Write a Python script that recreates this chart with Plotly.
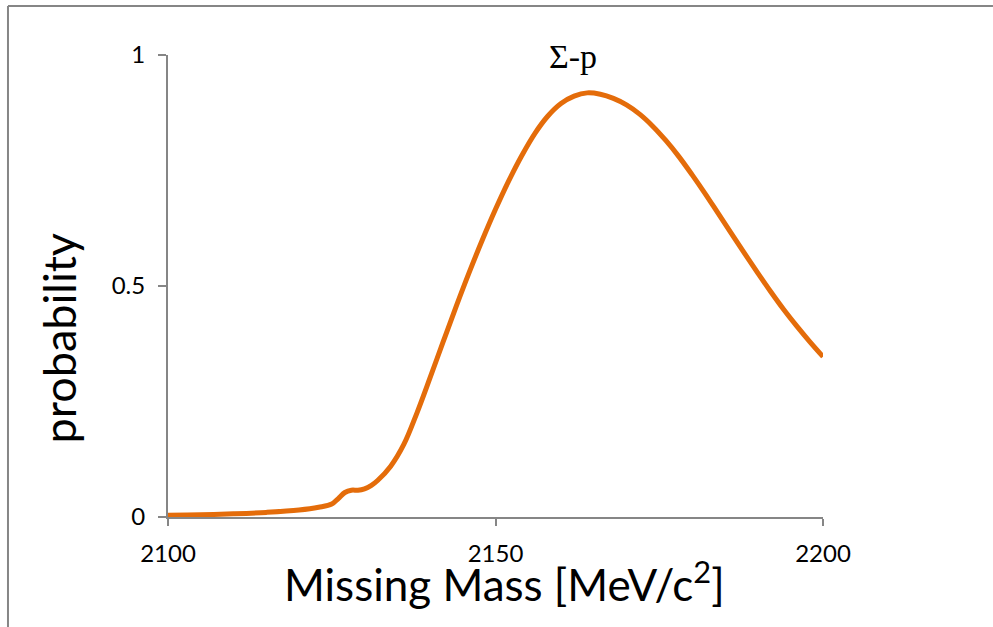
import plotly.graph_objects as go

# Missing-mass spectrum for the Σ-p channel
mass_mev = [2100, 2105, 2110, 2115, 2120, 2123, 2125, 2126, 2127, 2128, 2129, 2130,
            2131, 2132, 2134, 2136, 2138, 2140, 2142, 2144, 2146, 2148, 2150, 2152,
            2154, 2156, 2158, 2160, 2162, 2164, 2166, 2168, 2170, 2172, 2174, 2176,
            2178, 2180, 2182, 2184, 2186, 2188, 2190, 2192, 2194, 2196, 2198, 2200]
probability = [0.004, 0.005, 0.007, 0.010, 0.015, 0.021, 0.028, 0.040, 0.053, 0.058, 0.058, 0.061,
               0.068, 0.079, 0.110, 0.157, 0.225, 0.301, 0.379, 0.456, 0.530, 0.600, 0.666, 0.727,
               0.782, 0.830, 0.868, 0.895, 0.911, 0.918, 0.915, 0.906, 0.892, 0.872, 0.846, 0.815,
               0.780, 0.741, 0.700, 0.657, 0.614, 0.571, 0.529, 0.488, 0.449, 0.413, 0.379, 0.347]

x_ticks = [2100, 2150, 2200]
y_ticks = [0, 0.5, 1]
y_tick_text = ["0", "0.5", "1"]

AXIS_GRAY = "#868686"
ORANGE = "#E46C0A"
FONT = "Lato"

fig = go.Figure()
fig.add_trace(go.Scatter(
    x=mass_mev, y=probability, mode="lines",
    line=dict(color=ORANGE, width=5, shape="spline", smoothing=1.0),
    hoverinfo="skip", showlegend=False,
))

fig.update_layout(
    width=993, height=627,
    margin=dict(l=168, r=170, t=55, b=110),
    paper_bgcolor="white", plot_bgcolor="white",
    font=dict(family=FONT, color="black"),
    xaxis=dict(
        range=[2100, 2200], tickvals=x_ticks, ticktext=[str(v) for v in x_ticks],
        showgrid=False, zeroline=False, showline=True, linecolor=AXIS_GRAY, linewidth=2,
        ticks="outside", ticklen=7, tickwidth=2, tickcolor=AXIS_GRAY,
        tickfont=dict(family=FONT, size=24, color="black"), ticklabelstandoff=7,
    ),
    yaxis=dict(
        range=[0, 1], tickvals=y_ticks, ticktext=y_tick_text,
        showgrid=False, zeroline=False, showline=True, linecolor=AXIS_GRAY, linewidth=2,
        ticks="outside", ticklen=8, tickwidth=2, tickcolor=AXIS_GRAY,
        tickfont=dict(family=FONT, size=24, color="black"), ticklabelstandoff=8,
    ),
    annotations=[
        dict(text="Missing Mass [MeV/c<sup>2</sup>]", xref="paper", yref="paper",
             x=0.513, y=-0.14, xanchor="center", yanchor="middle", showarrow=False,
             font=dict(family=FONT, size=44, color="black")),
        dict(text="probability", xref="paper", yref="paper",
             x=-0.166, y=0.387, xanchor="center", yanchor="middle", showarrow=False,
             textangle=-90, font=dict(family=FONT, size=45, color="black")),
        dict(text="Σ-p", xref="paper", yref="paper",
             x=0.618, y=0.996, xanchor="center", yanchor="middle", showarrow=False,
             font=dict(family="Liberation Serif", size=34, color="black")),
    ],
    shapes=[
        # outer frame: top and left edges
        dict(type="line", xref="paper", yref="paper", x0=-0.2443, x1=1.2595, y0=1.106, y1=1.106,
             line=dict(color=AXIS_GRAY, width=2)),
        dict(type="line", xref="paper", yref="paper", x0=-0.2443, x1=-0.2443, y0=1.106, y1=-0.24,
             line=dict(color=AXIS_GRAY, width=2)),
    ],
)

fig.write_html("out.html", config={"displayModeBar": False})
